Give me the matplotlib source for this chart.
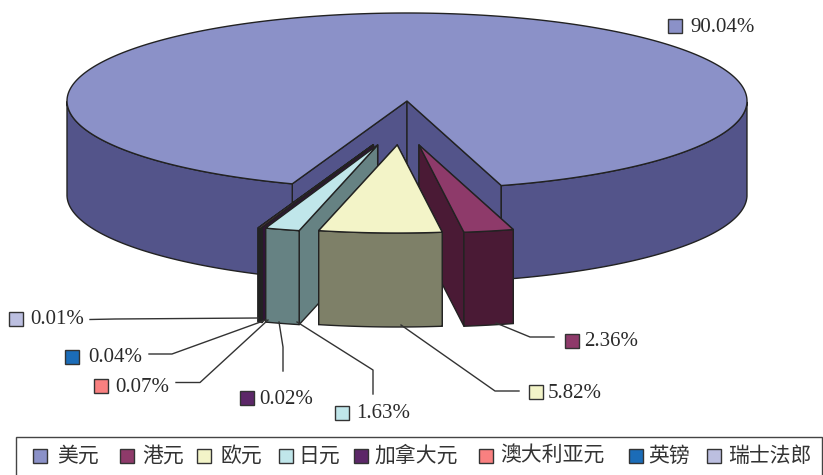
import matplotlib
matplotlib.use("Agg")
import matplotlib.pyplot as plt
import numpy as np
from matplotlib.patches import Polygon, Rectangle

currencies = ["美元", "港元", "欧元", "日元", "加拿大元", "澳大利亚元", "英镑", "瑞士法郎"]
shares = [90.04, 2.36, 5.82, 1.63, 0.02, 0.07, 0.04, 0.01]
top_colors = ["#8b91c8", "#8e3a6a", "#f3f4c8", "#c0e6ea", "#5c2768", "#f98080", "#1b6cb8", "#bcbfe0"]
side_colors = ["#53548a", "#4a1a35", "#7e8068", "#668283", "#321438", "#321438", "#321438", "#321438"]

# pie geometry, in pixels of the picture
cx, cy = 407, 101
rx, ry = 340, 88
depth = 94
start_angle = -73.9
explode_x, explode_y, shift_x = 85, 44, -5.5
edge = "#222222"
lw = 1.0

# swatch x, swatch y, text x, leader line for each label
label_layout = {
    0: (668, 26, 690, None),
    1: (565, 341, 584, [(554, 337), (530, 337), (496, 323)]),
    2: (529, 392, 548, [(519, 391), (495, 391), (401, 325)]),
    3: (335, 413, 356, [(373, 394), (373, 370), (297, 322)]),
    4: (240, 398, 259, [(283, 371), (283, 347), (279, 322)]),
    5: (94, 386, 115, [(176, 382.5), (200, 382.5), (268, 320)]),
    6: (65, 357, 88, [(149, 354), (172, 354), (266, 320)]),
    7: (9.5, 319, 30, [(90, 319.5), (115, 319), (258, 318)]),
}
legend_swatch_x = [33, 120, 197, 279, 354, 479, 629, 707]
legend_text_x = [57, 142, 221, 298, 374, 500, 648, 728]

SERIF = ["Liberation Serif", "DejaVu Serif"]
CJK = ["Noto Sans CJK SC", "DejaVu Sans"]


def rim(ox, oy, t):
    t = np.radians(t)
    return np.column_stack([ox + rx * np.cos(t), oy - ry * np.sin(t)])


def poly(ax, pts, color, width=lw):
    ax.add_patch(Polygon(pts, closed=True, fc=color, ec=edge, lw=width, joinstyle="round"))


def draw_slice(ax, ox, oy, t1, t2, top, side):
    # t1 > t2, the slice runs clockwise from t1 to t2
    ts = np.linspace(t1, t2, 400)
    arc = rim(ox, oy, ts)
    apex = np.array([ox, oy])
    down = np.array([0, depth])
    # the wall reaching further from the apex goes first, the nearer one covers it
    ends = sorted([arc[0], arc[-1]], key=lambda p: -abs(p[0] - ox))
    for p in ends:
        poly(ax, [apex, p, p + down, apex + down], side)
    # outer wall, only the part that faces the viewer
    front = np.sin(np.radians(ts)) <= 0
    if front.all():
        a = arc
        poly(ax, np.vstack([a, (a + down)[::-1]]), side)
    else:
        # big slice: two stretches either side of the notch
        for part in (ts > 180, ts < 0):
            a = arc[part]
            poly(ax, np.vstack([a, (a + down)[::-1]]), side)
    # very thin slices would turn into just their outline
    poly(ax, np.vstack([apex, arc]), top, width=lw if t1 - t2 > 1 else 0.4)


def swatch(ax, x, y, color):
    ax.add_patch(Rectangle((x + 0.8, y - 6.2), 14, 14, fc="#9a9a9a", ec="none"))
    ax.add_patch(Rectangle((x, y - 7), 14, 14, fc=color, ec="#333333", lw=1.0))


fig = plt.figure(figsize=(8.23, 4.75), dpi=100)
ax = fig.add_axes([0, 0, 1, 1])
ax.set_xlim(0, 823)
ax.set_ylim(475, 0)
ax.axis("off")

angles = [360 * s / sum(shares) for s in shares]

draw_slice(ax, cx, cy, start_angle + angles[0], start_angle, top_colors[0], side_colors[0])

pos = start_angle
slices = {}
for i in range(1, len(shares)):
    t1, t2 = pos, pos - angles[i]
    mid = np.radians((t1 + t2) / 2)
    ox = cx + shift_x + explode_x * np.cos(mid)
    oy = cy + explode_y
    slices[i] = (ox, oy, t1, t2)
    pos = t2

# painter's order: far sides first, euro last
for i in [1, 7, 6, 5, 4, 3, 2]:
    ox, oy, t1, t2 = slices[i]
    draw_slice(ax, ox, oy, t1, t2, top_colors[i], side_colors[i])

for i, (sx, sy, tx, leader) in label_layout.items():
    swatch(ax, sx, sy, top_colors[i])
    ax.text(tx, sy + 1, f"{shares[i]:.2f}%", family=SERIF, fontsize=15, color="#2a2a2a", va="center", ha="left")
    if leader:
        xs, ys = zip(*leader)
        ax.plot(xs, ys, color="#333333", lw=1.0)

# legend box
ax.add_patch(Rectangle((16, 437), 806, 42, fc="white", ec="#444444", lw=1.0))
for i, name in enumerate(currencies):
    swatch(ax, legend_swatch_x[i], 456, top_colors[i])
    ax.text(legend_text_x[i], 456, name, family=CJK, fontsize=15, weight="light", color="#333333", va="center", ha="left")

fig.savefig("out.png", dpi=100)
